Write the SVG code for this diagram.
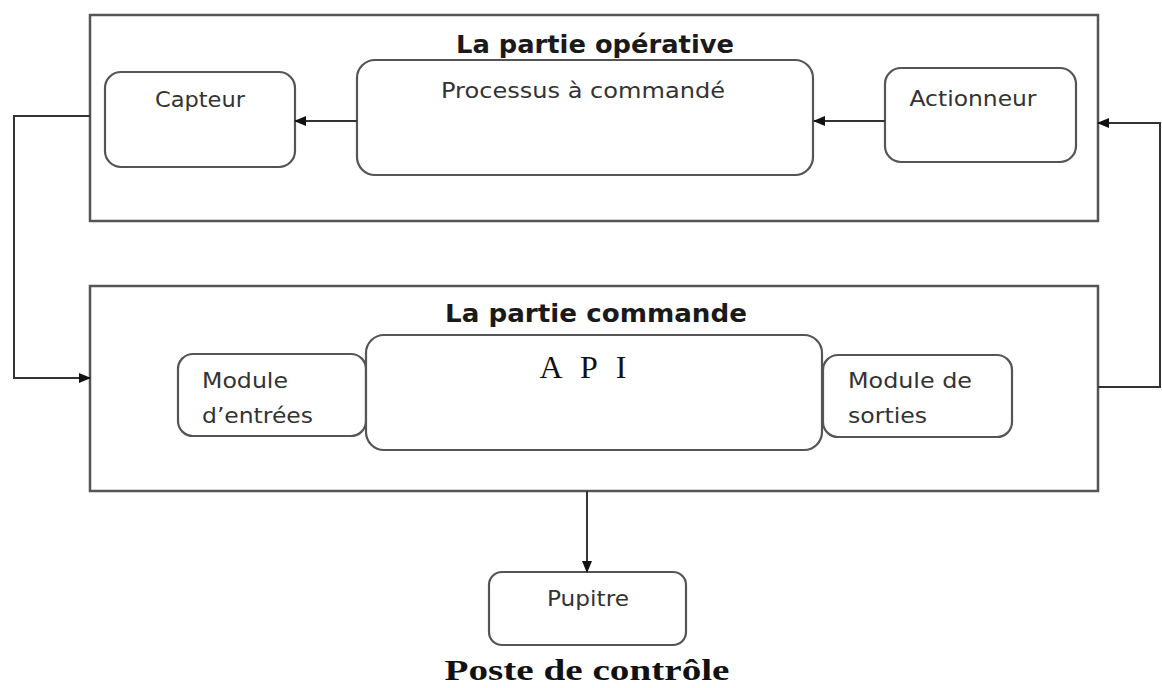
<svg xmlns="http://www.w3.org/2000/svg" width="1162" height="688" viewBox="0 0 1162 688">
  <style>
    .frame { fill: none; stroke: #555; stroke-width: 2.5; }
    .box { fill: #fff; stroke: #555; stroke-width: 2.2; }
    .wire { fill: none; stroke: #333; stroke-width: 2; }
    .title { font-family: "DejaVu Sans", "Liberation Sans", sans-serif; font-weight: bold; font-size: 25px; fill: #1a1a1a; }
    .label { font-family: "DejaVu Sans", "Liberation Sans", sans-serif; font-size: 21.5px; fill: #333; }
    .serif { font-family: "Liberation Serif", "DejaVu Serif", serif; fill: #111; }
  </style>
  <defs>
    <marker id="arrow" markerUnits="userSpaceOnUse" markerWidth="12" markerHeight="10" refX="11" refY="5" orient="auto">
      <path d="M0,0 L12,5 L0,10 Z" fill="#111"/>
    </marker>
  </defs>
  <rect width="1162" height="688" fill="#fff"/>

  <!-- operative part -->
  <g id="partie-operative">
    <rect class="frame" x="90" y="15" width="1008" height="206"/>
    <text class="title" x="595" y="53" text-anchor="middle" textLength="278" lengthAdjust="spacingAndGlyphs">La partie opérative</text>
  </g>
  <g id="capteur">
    <rect class="box" x="105" y="72" width="190" height="95" rx="16"/>
    <text class="label" x="200" y="107" text-anchor="middle" textLength="90" lengthAdjust="spacingAndGlyphs">Capteur</text>
  </g>
  <g id="processus">
    <rect class="box" x="357" y="60" width="456" height="115" rx="18"/>
    <text class="label" x="583" y="98" text-anchor="middle" textLength="284" lengthAdjust="spacingAndGlyphs">Processus à commandé</text>
  </g>
  <g id="actionneur">
    <rect class="box" x="885" y="68" width="191" height="94" rx="16"/>
    <text class="label" x="973" y="106" text-anchor="middle" textLength="127" lengthAdjust="spacingAndGlyphs">Actionneur</text>
  </g>

  <!-- control part -->
  <g id="partie-commande">
    <rect class="frame" x="90" y="286" width="1008" height="205"/>
    <text class="title" x="596" y="322" text-anchor="middle" textLength="302" lengthAdjust="spacingAndGlyphs">La partie commande</text>
  </g>
  <g id="module-entrees">
    <rect class="box" x="178" y="354" width="188" height="82" rx="15"/>
    <text class="label" x="202" y="388" textLength="86" lengthAdjust="spacingAndGlyphs">Module</text>
    <text class="label" x="202" y="423" textLength="111" lengthAdjust="spacingAndGlyphs">d’entrées</text>
  </g>
  <g id="api">
    <rect class="box" x="366" y="335" width="456" height="115" rx="18"/>
    <text class="serif" x="583" y="378" font-size="32" text-anchor="middle" textLength="87" lengthAdjust="spacing">A P I</text>
  </g>
  <g id="module-sorties">
    <rect class="box" x="823" y="355" width="189" height="82" rx="15"/>
    <text class="label" x="848" y="388" textLength="124" lengthAdjust="spacingAndGlyphs">Module de</text>
    <text class="label" x="848" y="423" textLength="79" lengthAdjust="spacingAndGlyphs">sorties</text>
  </g>

  <!-- control station -->
  <g id="pupitre">
    <rect class="box" x="489" y="572" width="197" height="73" rx="13"/>
    <text class="label" x="588" y="606" text-anchor="middle" textLength="82" lengthAdjust="spacingAndGlyphs">Pupitre</text>
  </g>
  <g id="poste-de-controle">
    <text class="serif" x="587" y="680" font-size="29" font-weight="bold" text-anchor="middle" textLength="285" lengthAdjust="spacingAndGlyphs">Poste de contrôle</text>
  </g>

  <!-- connectors -->
  <g id="connectors">
    <path class="wire" d="M357,121 H295" marker-end="url(#arrow)"/>
    <path class="wire" d="M885,121 H814" marker-end="url(#arrow)"/>
    <path class="wire" d="M1098,387 H1160 V123 H1098" marker-end="url(#arrow)"/>
    <path class="wire" d="M90,116 H14 V378 H90" marker-end="url(#arrow)"/>
    <path class="wire" d="M587,491 V572" marker-end="url(#arrow)"/>
  </g>
</svg>
